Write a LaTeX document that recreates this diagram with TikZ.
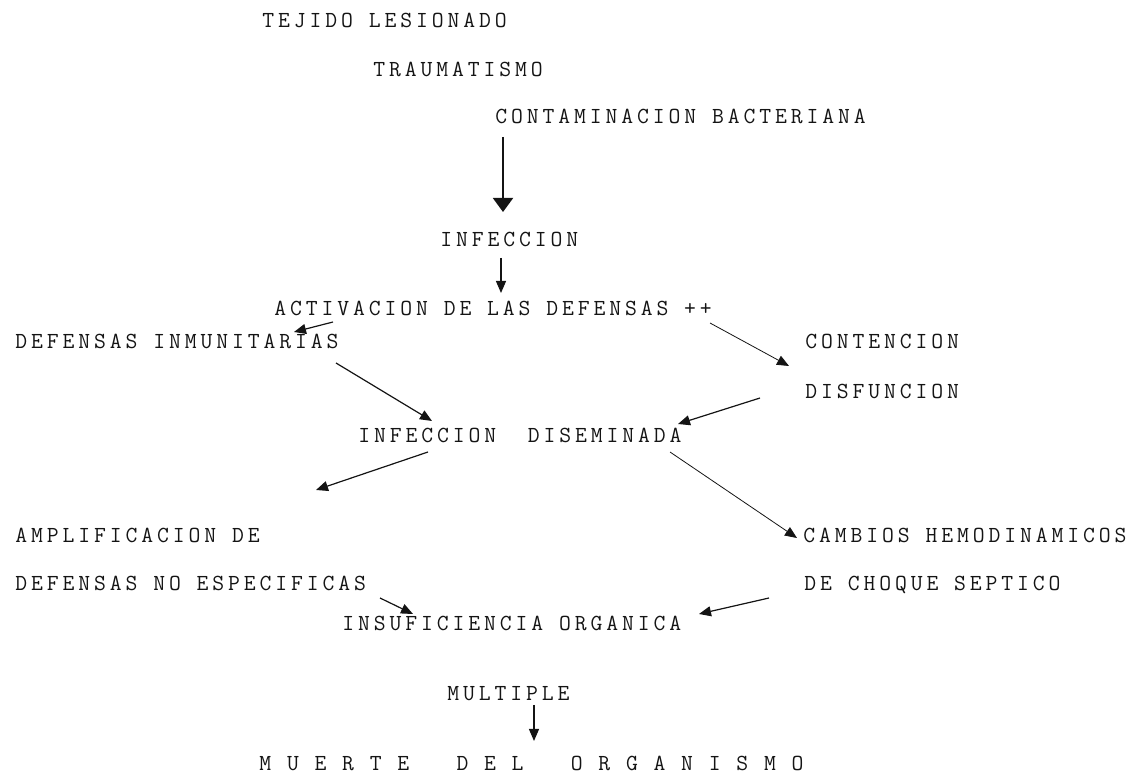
\documentclass[tikz,border=0pt]{standalone}
\usepackage{fontspec}
\newfontfamily\typewriter{Latin Modern Mono}[LetterSpace=17]
\usepackage{tikz}
\usetikzlibrary{arrows.meta, calc}
\definecolor{cInk}{RGB}{20,20,20}
\tikzset{
  typed/.style={anchor=base west, inner sep=0pt, text=cInk,
                font=\typewriter\fontsize{11.5}{13}\selectfont},
  arrow/.style={-{Triangle[length=6pt,width=5pt]}, line width=0.6pt, color=cInk},
  bigarrow/.style={-{Triangle[length=7pt,width=10pt]}, line width=1pt, color=cInk},
  faintarrow/.style={arrow, line width=0.4pt}
}

\begin{document}
\begin{tikzpicture}[x=0.5pt, y=-0.5pt]
  \useasboundingbox (0,0) rectangle (1140,779);

  % chain at the top
  \node[typed] (tejido)  at (262,28)  {TEJIDO LESIONADO};
  \node[typed] (trauma)  at (373,77)  {TRAUMATISMO};
  \node[typed] (contam)  at (495,124) {CONTAMINACION BACTERIANA};
  \node[typed] (infec)   at (440,247) {INFECCION};
  \node[typed] (activ)   at (274,316) {ACTIVACION DE LAS DEFENSAS ++};

  % two branches
  \node[typed] (inmun)   at (15,349)  {DEFENSAS INMUNITARIAS};
  \node[typed] (conten)  at (805,349) {CONTENCION};
  \node[typed] (disfun)  at (805,399) {DISFUNCION};
  \node[typed] (disem)   at (358,443) {INFECCION~~DISEMINADA};
  \node[typed] (amplif)  at (15,543)  {AMPLIFICACION DE};
  \node[typed] (noesp)   at (15,591)  {DEFENSAS NO ESPECIFICAS};
  \node[typed] (cambios) at (803,543) {CAMBIOS HEMODINAMICOS};
  \node[typed] (choque)  at (804,591) {DE CHOQUE SEPTICO};

  % outcome
  \node[typed] (insuf)   at (342,631) {INSUFICIENCIA ORGANICA};
  \node[typed] (multi)   at (447,701) {MULTIPLE};
  \node[typed] (muerte)  at (259,770)
      {M~U~E~R~T~E~~~D~E~L~~~O~R~G~A~N~I~S~M~O};

  \draw[bigarrow] ($(contam.base west)+(8,13)$) -- ($(infec.base west)+(63,-35)$);
  \draw[arrow] ($(infec.base west)+(61,11)$) -- ($(activ.base west)+(227,-23)$);
  \draw[arrow] ($(activ.base west)+(59,6)$) -- ($(inmun.base west)+(279,-17)$);
  \draw[faintarrow] ($(activ.base west)+(436,7)$) -- ($(conten.base west)+(-16,17)$);
  \draw[arrow] ($(inmun.base west)+(321,14)$) -- ($(disem.base west)+(74,-22)$);
  \draw[arrow] ($(disfun.base west)+(-45,-1)$) -- ($(disem.base west)+(320,-19)$);
  \draw[arrow] ($(disem.base west)+(70,9)$) -- ($(amplif.base west)+(301,-53)$);
  \draw[faintarrow] ($(disem.base west)+(312,9)$) -- ($(cambios.base west)+(-6,-5)$);
  \draw[arrow] ($(noesp.base west)+(365,7)$) -- ($(insuf.base west)+(71,-17)$);
  \draw[arrow] ($(choque.base west)+(-35,7)$) -- ($(insuf.base west)+(357,-17)$);
  \draw[arrow] ($(multi.base west)+(87,4)$) -- ($(muerte.base west)+(275,-29)$);
\end{tikzpicture}
\end{document}
